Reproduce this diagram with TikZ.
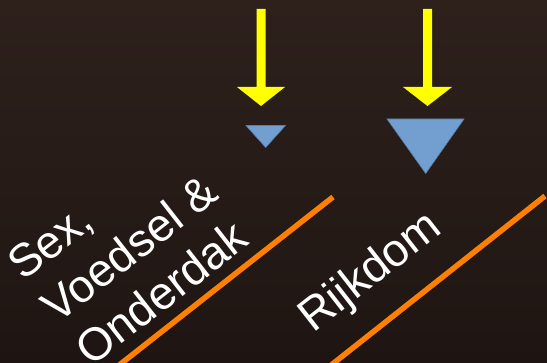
\documentclass[tikz,border=0pt]{standalone}
\usepackage{fontspec}
\setmainfont{Liberation Sans}
\definecolor{bgtop}{RGB}{46,33,28}
\definecolor{bgbot}{RGB}{30,21,18}
\definecolor{arrowyellow}{RGB}{255,255,0}
\definecolor{triblue}{RGB}{114,159,207}
\definecolor{triedge}{RGB}{85,125,175}
\definecolor{lineorange}{RGB}{255,128,0}
\tikzset{
  yarrow/.style={fill=arrowyellow, draw=none},
  tri/.style={fill=triblue, draw=triedge, line width=0.6pt},
  oline/.style={draw=lineorange, line width=5.5pt},
  lbl/.style={text=white, font=\fontsize{46}{55}\selectfont, rotate=38, anchor=base west, inner sep=0pt, outer sep=0pt}
}
\begin{document}
\begin{tikzpicture}[x=1pt,y=-1pt]
\useasboundingbox (0,0) rectangle (547,363);
\shade[top color=bgtop, bottom color=bgbot] (0,0) rectangle (547,363);
% yellow arrows
\path[yarrow] (256.5,9) -- (265.5,9) -- (265.5,87) -- (285,87) -- (261,106) -- (237,87) -- (256.5,87) -- cycle;
\path[yarrow] (423,9) -- (432,9) -- (432,87) -- (452,87) -- (427.5,106) -- (403,87) -- (423,87) -- cycle;
% blue triangles
\path[tri] (246,125.5) -- (285.5,125.5) -- (265.7,147.5) -- cycle;
\path[tri] (387,119) -- (464,119) -- (425.7,173.5) -- cycle;
% orange lines
\coordinate (l1a) at (333,197);
\coordinate (l1b) at (118,366);
\coordinate (l2a) at (545,196);
\coordinate (l2b) at (330,366);
\draw[oline] (l1a) -- (l1b);
\draw[oline] (l2a) -- (l2b);
% labels
\node[lbl] (t1) at (23.5,282) {Sex,};
\node[lbl] (t2) at (57.5,325) {Voedsel \&};
\node[lbl] (t3) at (91.5,368) {Onderdak};
\node[lbl] (t4) at (313,334) {Rijkdom};
\end{tikzpicture}
\end{document}
